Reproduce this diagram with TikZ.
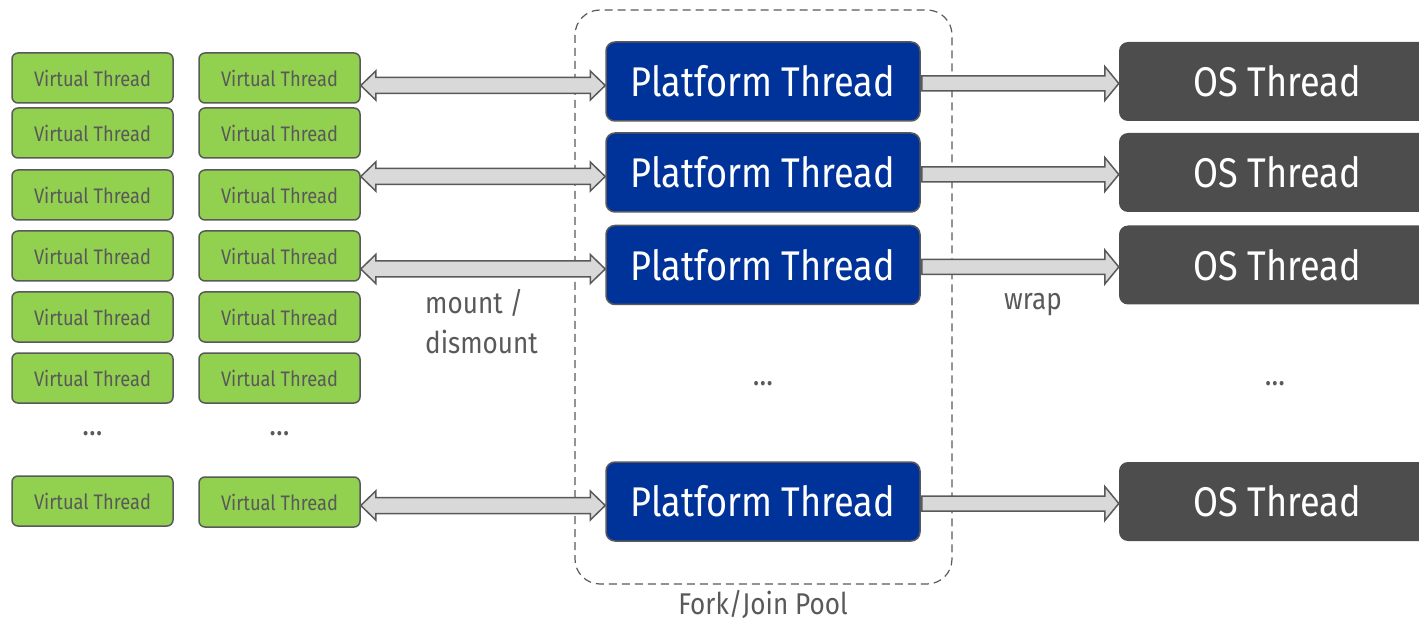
\documentclass[tikz,border=0pt]{standalone}
\usepackage{fontspec}
\setmainfont{Fira Sans}[FakeStretch=0.87]
\usetikzlibrary{calc}
\definecolor{vtgreen}{HTML}{92D050}
\definecolor{ptblue}{HTML}{003399}
\definecolor{osgray}{HTML}{4D4D4D}
\definecolor{edgegray}{HTML}{595959}
\definecolor{arrowfill}{HTML}{D9D9D9}

\tikzset{
  vthread/.style={draw=edgegray, line width=1.5pt, fill=vtgreen, rounded corners=6pt,
    minimum width=161pt, minimum height=50pt, inner sep=0pt, text=edgegray,
    font=\fontsize{21}{24}\selectfont},
  pthread/.style={draw=edgegray, line width=1.5pt, fill=ptblue, rounded corners=9pt,
    minimum width=314pt, minimum height=79pt, inner sep=0pt, text=white,
    font=\fontsize{41.5}{48}\selectfont},
  othread/.style={fill=osgray, rounded corners=9pt, minimum width=316pt,
    minimum height=79pt, inner sep=0pt, text=white, font=\fontsize{41.5}{48}\selectfont},
  blockarrow/.style={draw=edgegray, line width=1.5pt, fill=arrowfill, line join=miter},
  pool/.style={draw=edgegray, line width=1.2pt, dash pattern=on 8pt off 5pt, rounded corners=25pt},
  lbl/.style={text=edgegray, font=\fontsize{30}{40}\selectfont, align=left, inner sep=0pt},
  dots/.style={text=edgegray, font=\fontsize{32}{36}\selectfont},
}

% double block arrow between a virtual thread and a platform thread
\newcommand{\mountarrow}[2]{%
  \draw[blockarrow] let \p1=(#1.east), \p2=(#2.west), \n1={\y2-4pt} in
    (\x1,\n1) -- (\x1+15pt,\n1+14.5pt) -- (\x1+15pt,\n1+8pt) -- (\x2-15pt,\n1+8pt)
    -- (\x2-15pt,\n1+14.5pt) -- (\x2,\n1) -- (\x2-15pt,\n1-14.5pt) -- (\x2-15pt,\n1-8pt)
    -- (\x1+15pt,\n1-8pt) -- (\x1+15pt,\n1-14.5pt) -- cycle;}
% single block arrow from a platform thread to an os thread
\newcommand{\wraparrow}[2]{%
  \draw[blockarrow] let \p1=(#1.east), \p2=(#2.west), \n1={\y2-2pt} in
    (\x1+1pt,\n1+7.5pt) -- (\x2-14pt,\n1+7.5pt) -- (\x2-14pt,\n1+17pt) -- (\x2,\n1)
    -- (\x2-14pt,\n1-17pt) -- (\x2-14pt,\n1-7.5pt) -- (\x1+1pt,\n1-7.5pt) -- cycle;}

\begin{document}
\begin{tikzpicture}[x=1pt, y=1pt]
\useasboundingbox (0,0) rectangle (1419,-620);

% Fork/Join pool
\draw[pool] (575,-10) rectangle (952,-584);
\node[lbl] (poollbl) at (763,-604) {Fork/Join Pool};

% Virtual threads, first column
\node[vthread] (va1) at (92.5,-78) {Virtual Thread};
\node[vthread] (va2) at (92.5,-133) {Virtual Thread};
\node[vthread] (va3) at (92.5,-195) {Virtual Thread};
\node[vthread] (va4) at (92.5,-256) {Virtual Thread};
\node[vthread] (va5) at (92.5,-317) {Virtual Thread};
\node[vthread] (va6) at (92.5,-378) {Virtual Thread};
\node[dots] (vadots) at (92.5,-434) {...};
\node[vthread] (va7) at (92.5,-501) {Virtual Thread};

% Virtual threads, second column
\node[vthread] (vb1) at (279.5,-78) {Virtual Thread};
\node[vthread] (vb2) at (279.5,-133) {Virtual Thread};
\node[vthread] (vb3) at (279.5,-195) {Virtual Thread};
\node[vthread] (vb4) at (279.5,-256) {Virtual Thread};
\node[vthread] (vb5) at (279.5,-317) {Virtual Thread};
\node[vthread] (vb6) at (279.5,-378) {Virtual Thread};
\node[dots] (vbdots) at (279.5,-434) {...};
\node[vthread] (vb7) at (279.5,-502) {Virtual Thread};

% Platform threads
\node[pthread] (pt1) at (763,-81.5) {Platform Thread};
\node[pthread] (pt2) at (763,-172.5) {Platform Thread};
\node[pthread] (pt3) at (763,-265) {Platform Thread};
\node[dots] (ptdots) at (763,-384) {...};
\node[pthread] (pt4) at (763,-501.5) {Platform Thread};

% OS threads
\node[othread] (os1) at (1277,-81.5) {OS Thread};
\node[othread] (os2) at (1277,-172.5) {OS Thread};
\node[othread] (os3) at (1277,-265) {OS Thread};
\node[dots] (osdots) at (1275,-384) {...};
\node[othread] (os4) at (1277,-501.5) {OS Thread};

% mount / dismount
\mountarrow{vb1}{pt1}
\mountarrow{vb3}{pt2}
\mountarrow{vb4}{pt3}
\mountarrow{vb7}{pt4}
\node[lbl, anchor=north west] (mountlbl) at (425,-289) {mount /\\dismount};

% wrap
\wraparrow{pt1}{os1}
\wraparrow{pt2}{os2}
\wraparrow{pt3}{os3}
\wraparrow{pt4}{os4}
\node[lbl] (wraplbl) at (1033,-305) {wrap};
\end{tikzpicture}
\end{document}
